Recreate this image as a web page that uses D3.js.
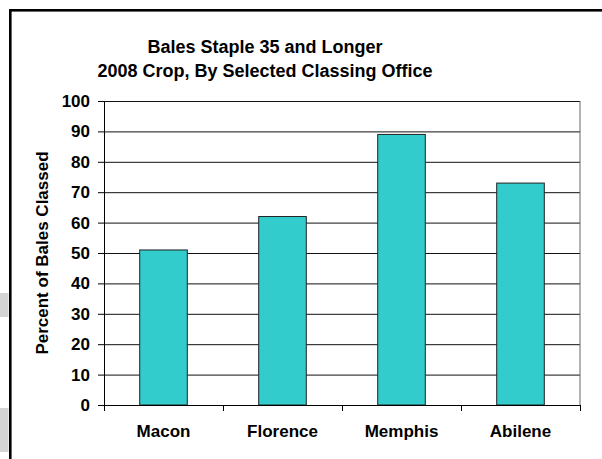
<!DOCTYPE html>
<html>
<head>
<meta charset="utf-8">
<script src="https://cdn.jsdelivr.net/npm/d3@7"></script>
<style>
  html, body { margin: 0; padding: 0; background: #fff; }
  svg { display: block; font-family: "Liberation Sans", Arial, sans-serif; }
</style>
</head>
<body>
<div id="chart"></div>
<script>
// Data
const offices = ["Macon", "Florence", "Memphis", "Abilene"];
const percentValues = [51, 62, 89, 73];
const yTicks = [0, 10, 20, 30, 40, 50, 60, 70, 80, 90, 100];
const titleLines = ["Bales Staple 35 and Longer", "2008 Crop, By Selected Classing Office"];
const yTitle = "Percent of Bales Classed";

const W = 602, H = 459;
const plot = { left: 104, right: 580, top: 101, bottom: 405 };

const svg = d3.select("#chart").append("svg")
  .attr("width", W)
  .attr("height", H);

// stray grey strips on the left edge
svg.append("rect").attr("x", 0).attr("y", 293).attr("width", 8.5).attr("height", 24).attr("fill", "#d4d4d4");
svg.append("rect").attr("x", 0).attr("y", 408).attr("width", 8.5).attr("height", 44).attr("fill", "#d4d4d4");

// outer chart frame (runs off the right and bottom)
svg.append("rect")
  .attr("x", 10.3).attr("y", 10.3)
  .attr("width", W + 20).attr("height", H + 20)
  .attr("fill", "none")
  .attr("stroke", "#000")
  .attr("stroke-width", 2.6);

// Title
svg.append("g")
  .selectAll("text")
  .data(titleLines)
  .enter().append("text")
  .attr("x", 265)
  .attr("y", (d, i) => 53 + i * 24)
  .attr("text-anchor", "middle")
  .style("font-size", "18px")
  .style("font-weight", "bold")
  .text(d => d);

// Scales
const x = d3.scaleBand()
  .domain(offices)
  .range([plot.left, plot.right])
  .paddingInner(0.6)
  .paddingOuter(0.3);

const xEdge = d3.scaleLinear()
  .domain([0, offices.length])
  .range([plot.left, plot.right]);

const y = d3.scaleLinear()
  .domain([0, 100])
  .range([plot.bottom, plot.top]);

// Grid lines
svg.append("g")
  .attr("class", "grid")
  .attr("transform", `translate(${plot.left},0)`)
  .call(d3.axisLeft(y).tickValues(yTicks).tickSize(-(plot.right - plot.left)).tickFormat(""))
  .call(g => g.select(".domain").remove())
  .selectAll("line")
  .attr("stroke", "#111")
  .attr("stroke-width", 1);

// right edge of plot area
svg.append("line")
  .attr("x1", plot.right).attr("x2", plot.right)
  .attr("y1", plot.top).attr("y2", plot.bottom)
  .attr("stroke", "#666")
  .attr("stroke-width", 1);

// Bars
svg.append("g")
  .selectAll("rect")
  .data(offices)
  .enter().append("rect")
  .attr("x", d => x(d))
  .attr("y", (d, i) => y(percentValues[i]))
  .attr("width", x.bandwidth())
  .attr("height", (d, i) => y(0) - y(percentValues[i]))
  .attr("fill", "#33cccc")
  .attr("stroke", "#222")
  .attr("stroke-width", 1);

// Y axis
svg.append("g")
  .attr("transform", `translate(${plot.left},0)`)
  .call(d3.axisLeft(y).tickValues(yTicks).tickSize(6).tickPadding(8))
  .call(g => g.select(".domain").attr("stroke", "#000").attr("d", `M0.5,${plot.top}V${plot.bottom}`))
  .call(g => g.selectAll(".tick line").attr("stroke", "#000"))
  .call(g => g.selectAll(".tick text")
    .style("font-size", "17px")
    .style("font-weight", "bold")
    .style("font-family", "'Liberation Sans', Arial, sans-serif")
    .attr("fill", "#000"));

// X axis: boundary ticks
svg.append("g")
  .attr("transform", `translate(0,${plot.bottom})`)
  .call(d3.axisBottom(xEdge).tickValues(d3.range(offices.length + 1)).tickSize(6).tickFormat(""))
  .call(g => g.select(".domain").attr("stroke", "#000").attr("d", `M${plot.left},0.5H${plot.right}`))
  .call(g => g.selectAll(".tick line").attr("stroke", "#000"));

// X axis: category labels
svg.append("g")
  .attr("transform", `translate(0,${plot.bottom})`)
  .call(d3.axisBottom(x).tickSize(0).tickPadding(20))
  .call(g => g.select(".domain").remove())
  .call(g => g.selectAll(".tick text")
    .style("font-size", "17px")
    .style("font-weight", "bold")
    .style("font-family", "'Liberation Sans', Arial, sans-serif")
    .attr("fill", "#000"));

// Y axis title
svg.append("text")
  .attr("transform", "rotate(-90)")
  .attr("x", -(plot.top + plot.bottom) / 2)
  .attr("y", 48)
  .attr("text-anchor", "middle")
  .style("font-size", "17px")
  .style("font-weight", "bold")
  .text(yTitle);
</script>
</body>
</html>
